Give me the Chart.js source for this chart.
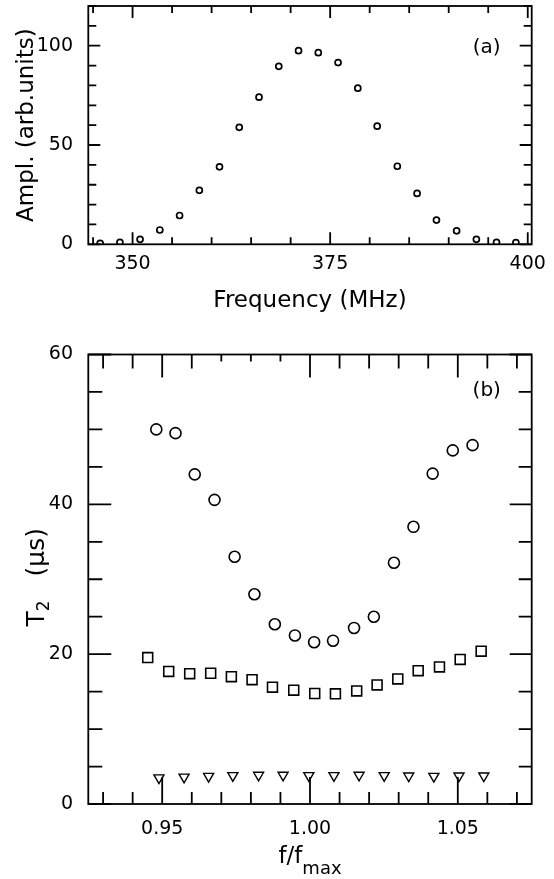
<!DOCTYPE html>
<html>
<head>
<meta charset="utf-8">
<script src="https://cdn.jsdelivr.net/npm/chart.js@4.4.1/dist/chart.umd.min.js"></script>
<style>
  body { margin: 0; background: #fff; }
  #wrapA { position: absolute; left: 0; top: 0; }
  #wrapB { position: absolute; left: 0; top: 340px; }
</style>
</head>
<body>
<div id="wrapA"><canvas id="chartA" width="554" height="340"></canvas></div>
<div id="wrapB"><canvas id="chartB" width="554" height="539"></canvas></div>
<script>
// panel (a): amplitude vs frequency
let freqA = [345.9, 348.4, 350.95, 353.45, 355.95, 358.45, 361.0, 363.5, 366.0, 368.5, 371.0,
             373.5, 376.0, 378.5, 380.95, 383.5, 386.0, 388.45, 391.0, 393.5, 396.05, 398.5];
let amplA = [0.5, 1.0, 2.5, 7.2, 14.5, 27.2, 39.0, 58.9, 74.1, 89.6, 97.5,
             96.5, 91.5, 78.6, 59.5, 39.3, 25.6, 12.2, 6.8, 2.5, 1.0, 0.8];
let freqTicksA = [345, 350, 355, 360, 365, 370, 375, 380, 385, 390, 395, 400];
let freqLabelsA = [350, 375, 400];
let amplTicksA = [0, 10, 20, 30, 40, 50, 60, 70, 80, 90, 100, 110, 120];
let amplLabelsA = [0, 50, 100];

// panel (b): T2 vs f/fmax, three series
let ratioCirc = [0.948, 0.9545, 0.961, 0.9677, 0.9745, 0.9812, 0.9881, 0.9949, 1.0014,
                 1.0078, 1.0149, 1.0216, 1.0284, 1.035, 1.0415, 1.0483, 1.055];
let t2Circ = [50.0, 49.5, 44.0, 40.6, 33.0, 28.0, 24.0, 22.5, 21.6,
              21.8, 23.5, 25.0, 32.2, 37.0, 44.1, 47.2, 47.9];
let ratioSq = [0.9451, 0.9522, 0.9593, 0.9664, 0.9734, 0.9804, 0.9873, 0.9945, 1.0016,
               1.0086, 1.0158, 1.0227, 1.0297, 1.0366, 1.0438, 1.0508, 1.0579];
let t2Sq = [19.55, 17.7, 17.4, 17.45, 17.0, 16.6, 15.6, 15.2, 14.75,
            14.7, 15.1, 15.9, 16.7, 17.8, 18.3, 19.3, 20.4];
let ratioTri = [0.9489, 0.9574, 0.9657, 0.9739, 0.9826, 0.9909, 0.9996,
                1.0081, 1.0166, 1.0251, 1.0334, 1.0419, 1.0504, 1.0588];
let t2Tri = [3.5, 3.6, 3.7, 3.8, 3.85, 3.85, 3.8, 3.8, 3.85, 3.8, 3.75, 3.7, 3.75, 3.75];
let ratioTicksB = [0.93, 0.94, 0.95, 0.96, 0.97, 0.98, 0.99, 1.00, 1.01, 1.02, 1.03, 1.04, 1.05, 1.06, 1.07];
let ratioLabelsB = [0.95, 1.00, 1.05];
let t2TicksB = [0, 5, 10, 15, 20, 25, 30, 35, 40, 45, 50, 55, 60];
let t2LabelsB = [0, 20, 40, 60];

const FONT = "'DejaVu Sans', sans-serif";
Chart.defaults.font.family = FONT;
Chart.defaults.color = '#000';

function pts(xs, ys) {
    return xs.map((x, i) => ({ x: x, y: ys[i] }));
}

// draw the subscripted axis titles piece by piece
function drawParts(ctx, parts, cx, cy, rot) {
    ctx.save();
    ctx.translate(cx, cy);
    ctx.rotate(rot);
    ctx.textBaseline = 'middle';
    let w = 0;
    for (let p of parts) {
        ctx.font = p.size + 'px ' + FONT;
        p.w = ctx.measureText(p.t).width;
        w += p.w;
    }
    let x = -w / 2;
    for (let p of parts) {
        ctx.font = p.size + 'px ' + FONT;
        ctx.fillText(p.t, x, p.dy);
        x += p.w;
    }
    ctx.restore();
}

// box frame with inward ticks on all four sides, plus panel tag
const frameTicks = {
    id: 'frameTicks',
    afterDraw(chart, args, o) {
        let { ctx, chartArea: a, scales } = chart;
        let L = o.len;
        ctx.save();
        ctx.strokeStyle = '#000';
        ctx.lineWidth = o.lineWidth;
        ctx.strokeRect(a.left, a.top, a.right - a.left, a.bottom - a.top);
        ctx.beginPath();
        for (let v of o.xTicks) {
            let px = scales.x.getPixelForValue(v);
            let major = o.xMajor.includes(v);
            let lb = major ? L.bMaj : L.bMin;
            let lt = major ? L.tMaj : ((o.shortTop || []).includes(v) ? L.tShort : L.tMin);
            ctx.moveTo(px, a.bottom); ctx.lineTo(px, a.bottom - lb);
            ctx.moveTo(px, a.top); ctx.lineTo(px, a.top + lt);
        }
        for (let v of o.yTicks) {
            let py = scales.y.getPixelForValue(v);
            let major = o.yMajor.includes(v);
            ctx.moveTo(a.left, py); ctx.lineTo(a.left + (major ? L.lMaj : L.lMin), py);
            ctx.moveTo(a.right, py); ctx.lineTo(a.right - (major ? L.rMaj : L.rMin), py);
        }
        ctx.stroke();
        ctx.fillStyle = '#000';
        ctx.font = o.tag.size + 'px ' + FONT;
        ctx.textAlign = 'center';
        ctx.textBaseline = 'middle';
        ctx.fillText(o.tag.text, scales.x.getPixelForValue(o.tag.x), scales.y.getPixelForValue(o.tag.y));
        ctx.restore();
        if (o.extra) o.extra(chart);
    }
};

// keep the plot box where it is: no extra room for overhanging labels
function fitY(w) {
    return s => { s.width = w; s.paddingTop = 0; s.paddingBottom = 0; };
}
function fitX(h) {
    return s => { s.height = h; s.paddingLeft = 0; s.paddingRight = 0; };
}

let common = {
    type: 'scatter',
    plugins: [frameTicks]
};

new Chart(document.getElementById('chartA'), {
    ...common,
    data: {
        datasets: [{
            data: pts(freqA, amplA),
            pointStyle: 'circle',
            pointRadius: 3,
            pointBorderWidth: 1.7,
            pointBorderColor: '#000',
            pointBackgroundColor: 'rgba(0,0,0,0)'
        }]
    },
    options: {
        responsive: false,
        animation: false,
        events: [],
        layout: { padding: { top: 6, right: 22.3, left: 0, bottom: 0 } },
        plugins: {
            legend: { display: false },
            tooltip: { enabled: false },
            frameTicks: {
                lineWidth: 1.8,
                xTicks: freqTicksA, xMajor: freqLabelsA,
                yTicks: amplTicksA, yMajor: amplLabelsA,
                len: { bMaj: 12, bMin: 7, tMaj: 12, tMin: 7, lMaj: 12, lMin: 8, rMaj: 12, rMin: 8 },
                tag: { text: '(a)', size: 20, x: 394.8, y: 99 }
            }
        },
        scales: {
            x: {
                type: 'linear', min: 344.4, max: 400.5,
                grid: { display: false, drawTicks: false },
                border: { display: false },
                afterBuildTicks: s => { s.ticks = freqLabelsA.map(v => ({ value: v })); },
                afterFit: fitX(95.7),
                ticks: { font: { size: 19 }, padding: 8, maxRotation: 0, autoSkip: false },
                title: { display: true, text: 'Frequency (MHz)', font: { size: 23 }, padding: { bottom: 25 } }
            },
            y: {
                type: 'linear', min: 0, max: 120,
                grid: { display: false, drawTicks: false },
                border: { display: false },
                afterBuildTicks: s => { s.ticks = amplLabelsA.map(v => ({ value: v })); },
                afterFit: fitY(88.3),
                ticks: { font: { size: 19 }, padding: 15.3, autoSkip: false },
                title: { display: true, text: 'Ampl. (arb.units)', font: { size: 23 }, padding: { top: 13 } }
            }
        }
    }
});

new Chart(document.getElementById('chartB'), {
    ...common,
    data: {
        datasets: [{
            data: pts(ratioCirc, t2Circ),
            pointStyle: 'circle',
            pointRadius: 5.5,
            pointBorderWidth: 1.6,
            pointBorderColor: '#000',
            pointBackgroundColor: 'rgba(0,0,0,0)'
        }, {
            data: pts(ratioSq, t2Sq),
            pointStyle: 'rect',
            pointRadius: 7,
            pointBorderWidth: 1.6,
            pointBorderColor: '#000',
            pointBackgroundColor: 'rgba(0,0,0,0)'
        }, {
            data: pts(ratioTri, t2Tri),
            pointStyle: 'triangle',
            pointRotation: 180,
            pointRadius: 5.8,
            pointBorderWidth: 1.4,
            pointBorderColor: '#000',
            pointBackgroundColor: 'rgba(0,0,0,0)'
        }]
    },
    options: {
        responsive: false,
        animation: false,
        events: [],
        layout: { padding: { top: 14.5, right: 22.3, left: 0, bottom: 0 } },
        plugins: {
            legend: { display: false },
            tooltip: { enabled: false },
            frameTicks: {
                lineWidth: 1.8,
                xTicks: ratioTicksB, xMajor: ratioLabelsB, shortTop: [0.97, 0.98, 0.99],
                yTicks: t2TicksB, yMajor: t2LabelsB,
                len: { bMaj: 27, bMin: 12, tMaj: 23, tMin: 14, tShort: 7, lMaj: 23, lMin: 14, rMaj: 22, rMin: 13 },
                tag: { text: '(b)', size: 20, x: 1.0598, y: 55.1 },
                extra: chart => {
                    let { ctx, chartArea: a } = chart;
                    ctx.fillStyle = '#000';
                    drawParts(ctx, [
                        { t: 'T', size: 25, dy: 0 },
                        { t: '2', size: 17, dy: 8 },
                        { t: '   (\u00b5s)', size: 25, dy: 0 }
                    ], 37, (a.top + a.bottom) / 2 - 2, -Math.PI / 2);
                    drawParts(ctx, [
                        { t: 'f/f', size: 23, dy: 0 },
                        { t: 'max', size: 18, dy: 12 }
                    ], (a.left + a.right) / 2, 517, 0);
                }
            }
        },
        scales: {
            x: {
                type: 'linear', min: 0.925, max: 1.075,
                grid: { display: false, drawTicks: false },
                border: { display: false },
                afterBuildTicks: s => { s.ticks = ratioLabelsB.map(v => ({ value: v })); },
                afterFit: fitX(75),
                ticks: { font: { size: 19 }, padding: 14, maxRotation: 0, autoSkip: false,
                         callback: v => v.toFixed(2) }
            },
            y: {
                type: 'linear', min: 0, max: 60,
                grid: { display: false, drawTicks: false },
                border: { display: false },
                afterBuildTicks: s => { s.ticks = t2LabelsB.map(v => ({ value: v })); },
                afterFit: fitY(88.3),
                ticks: { font: { size: 19 }, padding: 15.3, autoSkip: false }
            }
        }
    }
});
</script>
</body>
</html>
